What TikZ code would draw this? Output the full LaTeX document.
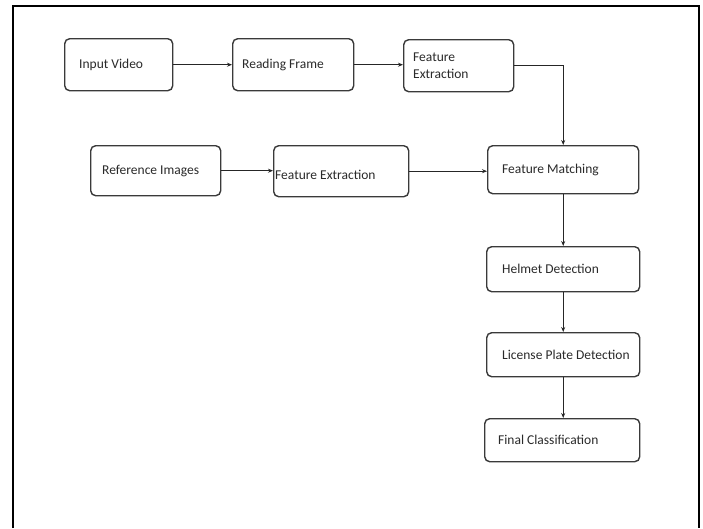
\documentclass[tikz,border=0pt]{standalone}
\usepackage{fontspec}
\setmainfont{Carlito}
\usetikzlibrary{arrows.meta}
\definecolor{boxline}{HTML}{3A3A3A}
\definecolor{txt}{HTML}{2A2A2A}
\begin{document}
\begin{tikzpicture}[x=1pt,y=-1pt,
  box/.style={draw=boxline, line width=1.4pt, rounded corners=5pt, anchor=north west, inner sep=0pt},
  lbl/.style={anchor=west, inner sep=0pt, font=\fontsize{13.5}{16.5}\selectfont, text=txt, align=left},
  arr/.style={draw=black!85, line width=0.9pt, -{Stealth[length=5pt,width=4pt]}}]
\useasboundingbox (0,0) rectangle (703,528);
\fill[white] (0,0) rectangle (703,528);
\draw[line width=2pt, black] (13,528) -- (13,6) -- (699,6) -- (699,528);

\node[box, minimum width=108pt, minimum height=52pt,
  label={[lbl, xshift=15pt]west:Input Video}] (iv) at (64,38) {};
\node[box, minimum width=121pt, minimum height=52pt,
  label={[lbl, xshift=10pt]west:Reading Frame}] (rf) at (232,38) {};
\node[box, minimum width=110pt, minimum height=52pt,
  label={[lbl, xshift=10pt]west:Feature\\Extraction}] (fe1) at (403,39) {};
\node[box, minimum width=130pt, minimum height=50pt,
  label={[lbl, xshift=12pt]west:Reference Images}] (ri) at (90,145) {};
\node[box, minimum width=135pt, minimum height=51pt,
  label={[lbl, xshift=2pt, yshift=-4pt]west:Feature Extraction}] (fe2) at (273,145) {};
\node[box, minimum width=151pt, minimum height=48pt,
  label={[lbl, xshift=15pt]west:Feature Matching}] (fm) at (487,145) {};
\node[box, minimum width=153pt, minimum height=45pt,
  label={[lbl, xshift=16pt]west:Helmet Detection}] (hd) at (486,246) {};
\node[box, minimum width=153pt, minimum height=44pt,
  label={[lbl, xshift=16pt]west:License Plate Detection}] (lp) at (486,332) {};
\node[box, minimum width=155pt, minimum height=43pt,
  label={[lbl, xshift=14pt]west:Final Classification}] (fc) at (484,418) {};

\draw[arr] (iv.east) -- (iv.east -| rf.west);
\draw[arr] (rf.east) -- (rf.east -| fe1.west);
\draw[arr] (fe1.east) -| (fm.north);
\draw[arr] (ri.east) -- (ri.east -| fe2.west);
\draw[arr] (fe2.east) -- (fe2.east -| fm.west);
\draw[arr] (fm.south) -- (fm.south |- hd.north);
\draw[arr] (hd.south) -- (hd.south |- lp.north);
\draw[arr] (lp.south) -- (lp.south |- fc.north);
\end{tikzpicture}
\end{document}
